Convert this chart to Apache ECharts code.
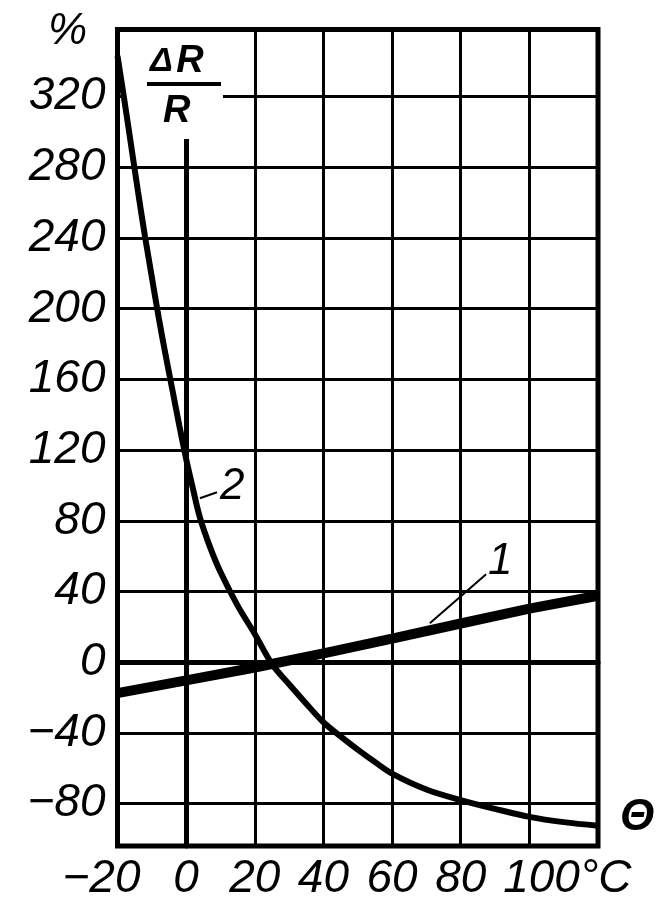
<!DOCTYPE html>
<html>
<head>
<meta charset="utf-8">
<script src="https://cdn.jsdelivr.net/npm/echarts@6/dist/echarts.min.js"></script>
<style>
html,body{margin:0;padding:0;background:#fff;}
#c{width:667px;height:904px;}
</style>
</head>
<body>
<div id="c"></div>
<script>
// ---- data ----
const xTicks = [-20, 0, 20, 40, 60, 80, 100, 120];
const yTicks = [-80, -40, 0, 40, 80, 120, 160, 200, 240, 280, 320];
const line1X = [-20, 0, 20, 40, 60, 80, 100, 120];
const line1Y = [-17.5, -10.3, -3, 5, 13.4, 21.9, 30.3, 37.6];
const curve2X = [-20, -18, -16, -14, -12, -10, -8, -6, -4, -2, 0, 2, 4, 7, 10, 15, 20, 25, 30, 35, 40, 45, 50, 55, 60, 70, 80, 90, 100, 110, 120];
const curve2Y = [343, 318, 292, 266, 241, 218, 195, 174, 154, 134, 115, 98, 82, 65, 51, 32, 16, -1, -12.5, -23.5, -34, -42, -49.5, -56.5, -63, -72, -78, -83, -87.5, -90.5, -92.5];
const lead1X = [71, 87.4];
const lead1Y = [22, 49.8];
const lead2X = [4.0, 9.0];
const lead2Y = [92.8, 96.2];
const curveLabels = [{text: '1', x: 91.5, y: 56.6}, {text: '2', x: 13.4, y: 99}];

const pair = (xs, ys) => xs.map((x, i) => [x, ys[i]]);
const FONT = 'Liberation Sans';
const chart = echarts.init(document.getElementById('c'), null, {renderer: 'canvas'});

function xFmt(v) {
  if (v === 120) return '';
  if (v === -20) return '{neg|−20}';
  if (v === 100) return '{deg|100°C}';
  return '{n|' + v + '}';
}
function yFmt(v) {
  return v < 0 ? '−' + Math.abs(v) : String(v);
}
const lblStyle = {fontFamily: FONT, fontStyle: 'italic', fontSize: 46, color: '#000'};

const option = {
  animation: false,
  backgroundColor: '#fff',
  grid: {left: 117.5, right: 69, top: 29.5, bottom: 58, show: true, borderColor: '#000', borderWidth: 5, backgroundColor: 'transparent'},
  xAxis: {
    type: 'value', min: -20, max: 120, interval: 20,
    axisLine: {show: true, lineStyle: {color: '#000', width: 5}},
    axisTick: {show: false},
    splitLine: {show: true, lineStyle: {color: '#000', width: 3}},
    axisLabel: {
      formatter: xFmt, margin: 10,
      rich: {
        n: lblStyle,
        neg: Object.assign({padding: [0, 32, 0, 0]}, lblStyle),
        deg: Object.assign({padding: [0, 0, 0, 76]}, lblStyle)
      }
    }
  },
  yAxis: {
    type: 'value', min: -104, max: 358,
    axisLine: {show: true, lineStyle: {color: '#000', width: 5}},
    axisTick: {show: false, customValues: yTicks},
    splitLine: {show: true, lineStyle: {color: '#000', width: 3}},
    axisLabel: Object.assign({customValues: yTicks, formatter: yFmt, margin: 12}, lblStyle)
  },
  series: [
    {type: 'line', name: '1', data: pair(line1X, line1Y), showSymbol: false, lineStyle: {color: '#000', width: 10}, z: 3},
    {type: 'line', name: '2', data: pair(curve2X, curve2Y), showSymbol: false, smooth: 0.35, lineStyle: {color: '#000', width: 6}, z: 3},
    {type: 'line', name: 'lead1', data: pair(lead1X, lead1Y), showSymbol: false, lineStyle: {color: '#000', width: 2}, z: 3},
    {type: 'line', name: 'lead2', data: pair(lead2X, lead2Y), showSymbol: false, lineStyle: {color: '#000', width: 2}, z: 3}
  ],
  graphic: [
    {type: 'rect', z: 1, shape: {x: 121, y: 32, width: 102, height: 107}, style: {fill: '#fff'}},
    {type: 'text', z: 5, left: 48, top: 10, style: {text: '%', font: 'italic 44px ' + FONT, fill: '#000'}},
    {type: 'text', z: 5, left: 150, top: 43, style: {text: '{d|Δ} {r|R}', rich: {d: {font: 'italic bold 34px ' + FONT, fill: '#000'}, r: {font: 'italic bold 38px ' + FONT, fill: '#000'}}}},
    {type: 'rect', z: 5, shape: {x: 147, y: 82, width: 74, height: 4}, style: {fill: '#000'}},
    {type: 'text', z: 5, left: 163, top: 93, style: {text: 'R', font: 'italic bold 38px ' + FONT, fill: '#000'}},
    {type: 'text', z: 5, left: 620, top: 796, style: {text: 'Θ', font: 'italic bold 44px ' + FONT, fill: '#000'}}
  ]
};
chart.setOption(option);

const extra = curveLabels.map(c => {
  const p = chart.convertToPixel({gridIndex: 0}, [c.x, c.y]);
  return {type: 'text', z: 5, x: p[0], y: p[1], style: {text: c.text, font: 'italic 44px ' + FONT, fill: '#000', align: 'center', verticalAlign: 'middle'}};
});
chart.setOption({graphic: option.graphic.concat(extra)});
</script>
</body>
</html>
